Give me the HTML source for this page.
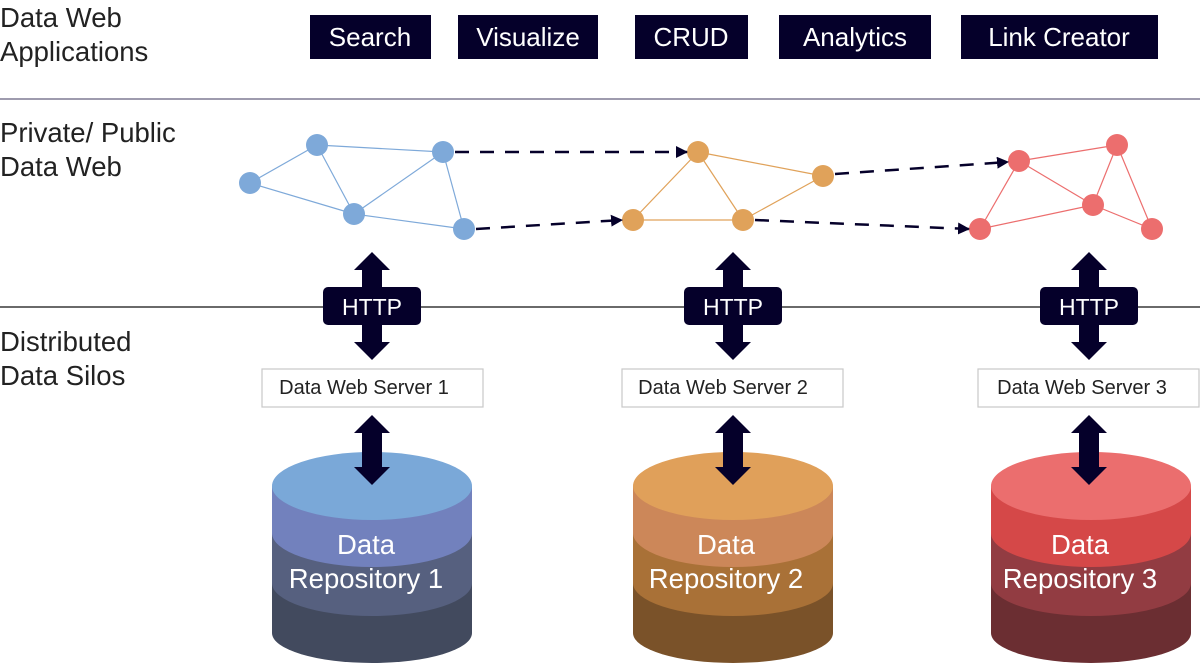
<!DOCTYPE html>
<html><head><meta charset="utf-8"><style>
html,body{margin:0;padding:0;background:#fff;}
svg{display:block;font-family:"Liberation Sans",sans-serif;}
</style></head><body>
<svg width="1200" height="666" viewBox="0 0 1200 666" xmlns="http://www.w3.org/2000/svg">
<defs>
<marker id="ah" markerWidth="12" markerHeight="12" refX="11" refY="6" orient="auto" markerUnits="userSpaceOnUse">
<path d="M0,0 L12,6 L0,12 Z" fill="#05002a"/></marker>
</defs>
<g font-size="27.5" fill="#222">
<text x="0" y="27">Data Web</text>
<text x="0" y="61">Applications</text>
<text x="0" y="142">Private/ Public</text>
<text x="0" y="176">Data Web</text>
<text x="0" y="351">Distributed</text>
<text x="0" y="385">Data Silos</text>
</g>
<g fill="#05002a">
<rect x="310" y="15" width="121" height="44"/>
<rect x="458" y="15" width="140" height="44"/>
<rect x="635" y="15" width="113" height="44"/>
<rect x="779" y="15" width="152" height="44"/>
<rect x="961" y="15" width="197" height="44"/>
</g>
<g font-size="26" fill="#fff" text-anchor="middle">
<text x="370" y="46">Search</text>
<text x="528" y="46">Visualize</text>
<text x="691" y="46">CRUD</text>
<text x="855" y="46">Analytics</text>
<text x="1059" y="46">Link Creator</text>
</g>
<line x1="0" y1="99" x2="1200" y2="99" stroke="#7f7a94" stroke-width="1.5"/>
<line x1="0" y1="307" x2="1200" y2="307" stroke="#111" stroke-width="1.2"/>
<g stroke="#7ea9d9" stroke-width="1.2">
<line x1="250" y1="183" x2="317" y2="145"/><line x1="250" y1="183" x2="354" y2="214"/>
<line x1="317" y1="145" x2="443" y2="152"/><line x1="317" y1="145" x2="354" y2="214"/>
<line x1="354" y1="214" x2="443" y2="152"/><line x1="354" y1="214" x2="464" y2="229"/>
<line x1="443" y1="152" x2="464" y2="229"/>
</g>
<g fill="#7ea9d9"><circle cx="250" cy="183" r="11"/><circle cx="317" cy="145" r="11"/><circle cx="443" cy="152" r="11"/><circle cx="354" cy="214" r="11"/><circle cx="464" cy="229" r="11"/></g>
<g stroke="#e0a25a" stroke-width="1.2">
<line x1="698" y1="152" x2="823" y2="176"/><line x1="698" y1="152" x2="633" y2="220"/>
<line x1="698" y1="152" x2="743" y2="220"/><line x1="633" y1="220" x2="743" y2="220"/>
<line x1="743" y1="220" x2="823" y2="176"/>
</g>
<g fill="#e0a25a"><circle cx="698" cy="152" r="11"/><circle cx="823" cy="176" r="11"/><circle cx="633" cy="220" r="11"/><circle cx="743" cy="220" r="11"/></g>
<g stroke="#ec6e6e" stroke-width="1.2">
<line x1="1019" y1="161" x2="1117" y2="145"/><line x1="1019" y1="161" x2="1093" y2="205"/>
<line x1="1019" y1="161" x2="980" y2="229"/><line x1="1117" y1="145" x2="1093" y2="205"/>
<line x1="1117" y1="145" x2="1152" y2="229"/><line x1="1093" y1="205" x2="980" y2="229"/>
<line x1="1093" y1="205" x2="1152" y2="229"/>
</g>
<g fill="#ec6e6e"><circle cx="1019" cy="161" r="11"/><circle cx="1117" cy="145" r="11"/><circle cx="1093" cy="205" r="11"/><circle cx="980" cy="229" r="11"/><circle cx="1152" cy="229" r="11"/></g>
<g stroke="#05002a" stroke-width="2.5" stroke-dasharray="14,11" fill="none" marker-end="url(#ah)">
<line x1="455" y1="152" x2="687" y2="152"/>
<line x1="476" y1="229" x2="622" y2="220"/>
<line x1="835" y1="174" x2="1008" y2="162"/>
<line x1="755" y1="220" x2="969" y2="229"/>
</g>
<g transform="translate(372,0)">
<polygon fill="#05002a" points="0,252 18,270 10,270 10,342 18,342 0,360 -18,342 -10,342 -10,270 -18,270"/>
<rect x="-49" y="287" width="98" height="38" rx="5" fill="#05002a"/>
<text x="0" y="315" font-size="23" fill="#fff" text-anchor="middle">HTTP</text>
</g>
<g transform="translate(733,0)">
<polygon fill="#05002a" points="0,252 18,270 10,270 10,342 18,342 0,360 -18,342 -10,342 -10,270 -18,270"/>
<rect x="-49" y="287" width="98" height="38" rx="5" fill="#05002a"/>
<text x="0" y="315" font-size="23" fill="#fff" text-anchor="middle">HTTP</text>
</g>
<g transform="translate(1089,0)">
<polygon fill="#05002a" points="0,252 18,270 10,270 10,342 18,342 0,360 -18,342 -10,342 -10,270 -18,270"/>
<rect x="-49" y="287" width="98" height="38" rx="5" fill="#05002a"/>
<text x="0" y="315" font-size="23" fill="#fff" text-anchor="middle">HTTP</text>
</g>
<g fill="#fff" stroke="#c8c8c8" stroke-width="1.2">
<rect x="262" y="369" width="221" height="38"/>
<rect x="622" y="369" width="221" height="38"/>
<rect x="978" y="369" width="221" height="38"/>
</g>
<g font-size="20" fill="#222" text-anchor="middle">
<text x="364" y="394">Data Web Server 1</text>
<text x="723" y="394">Data Web Server 2</text>
<text x="1082" y="394">Data Web Server 3</text>
</g>
<g transform="translate(372,0)">
<path d="M-100,486 V633 A100,30 0 0 0 100,633 V486 Z" fill="#424a5e"/>
<path d="M-100,486 V583 A100,33 0 0 0 100,583 V486 Z" fill="#56607f"/>
<path d="M-100,486 V533 A100,34 0 0 0 100,533 V486 Z" fill="#7281bd"/>
<ellipse cx="0" cy="486" rx="100" ry="34" fill="#7aa8d8"/>
</g>
<g transform="translate(733,0)">
<path d="M-100,486 V633 A100,30 0 0 0 100,633 V486 Z" fill="#7a5229"/>
<path d="M-100,486 V583 A100,33 0 0 0 100,583 V486 Z" fill="#a97137"/>
<path d="M-100,486 V533 A100,34 0 0 0 100,533 V486 Z" fill="#cc8759"/>
<ellipse cx="0" cy="486" rx="100" ry="34" fill="#e0a05a"/>
</g>
<g transform="translate(1091,0)">
<path d="M-100,486 V633 A100,30 0 0 0 100,633 V486 Z" fill="#6b2e32"/>
<path d="M-100,486 V583 A100,33 0 0 0 100,583 V486 Z" fill="#923c42"/>
<path d="M-100,486 V533 A100,34 0 0 0 100,533 V486 Z" fill="#d54848"/>
<ellipse cx="0" cy="486" rx="100" ry="34" fill="#eb6e6e"/>
</g>
<g fill="#05002a">
<polygon transform="translate(372,0)" points="0,415 18,433 10,433 10,467 18,467 0,485 -18,467 -10,467 -10,433 -18,433"/>
<polygon transform="translate(733,0)" points="0,415 18,433 10,433 10,467 18,467 0,485 -18,467 -10,467 -10,433 -18,433"/>
<polygon transform="translate(1089,0)" points="0,415 18,433 10,433 10,467 18,467 0,485 -18,467 -10,467 -10,433 -18,433"/>
</g>
<g font-size="27.5" fill="#fff" text-anchor="middle">
<text x="366" y="554">Data</text><text x="366" y="588">Repository 1</text>
<text x="726" y="554">Data</text><text x="726" y="588">Repository 2</text>
<text x="1080" y="554">Data</text><text x="1080" y="588">Repository 3</text>
</g>
</svg>
</body></html>
